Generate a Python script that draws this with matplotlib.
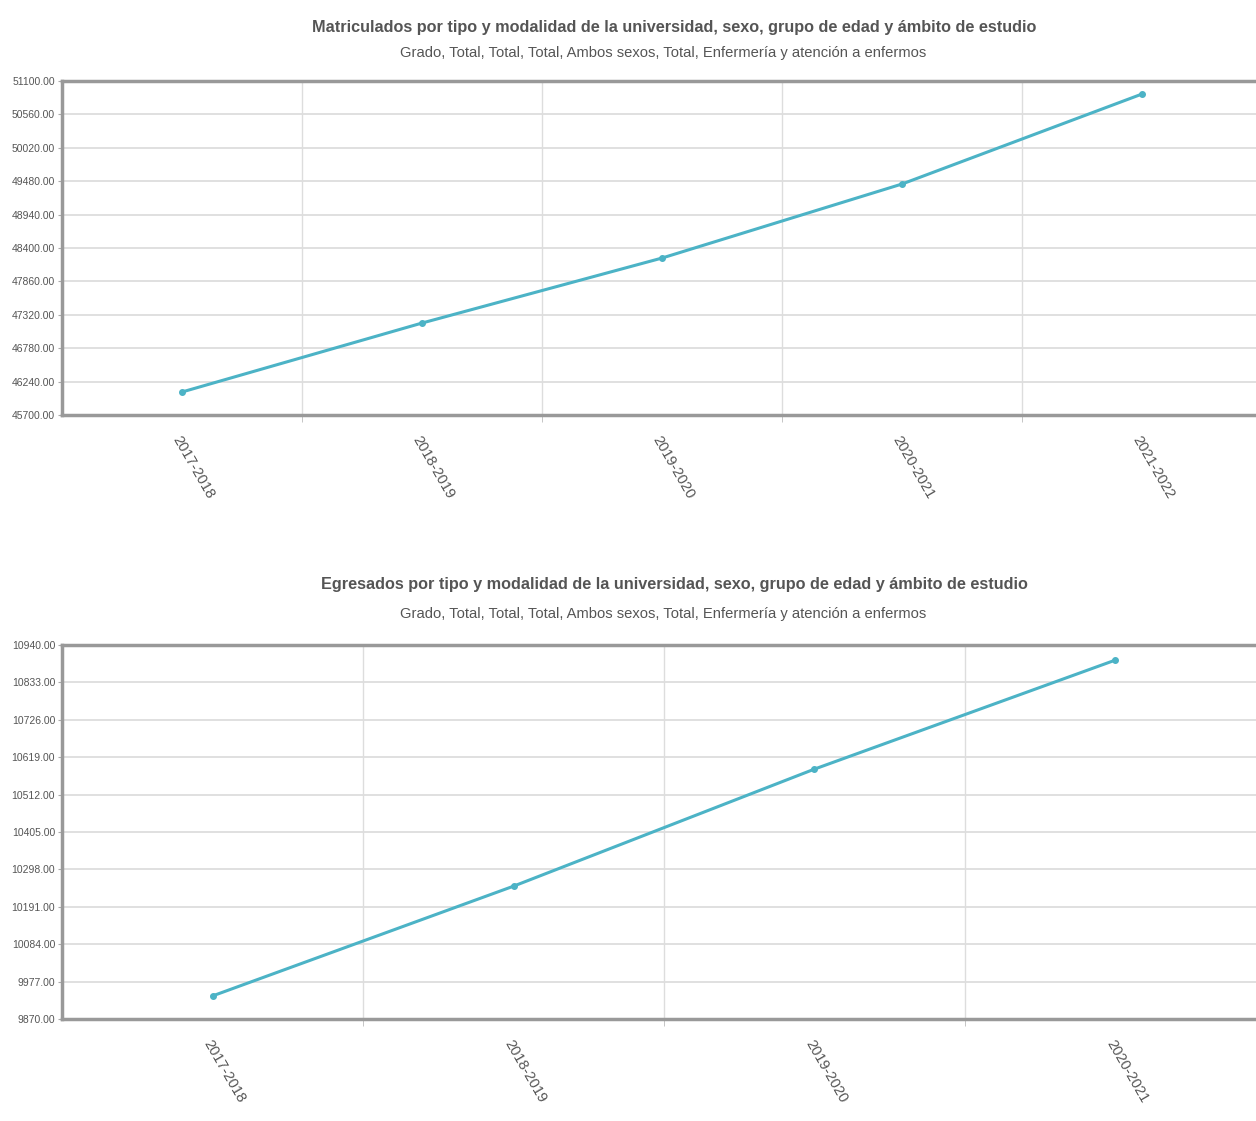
import matplotlib.pyplot as plt
import numpy as np
from matplotlib.ticker import FixedLocator, FormatStrFormatter

plt.rcParams['font.family'] = ['Liberation Sans Narrow', 'Liberation Sans', 'DejaVu Sans']

# --- data ---
matric_years = ['2017-2018', '2018-2019', '2019-2020', '2020-2021', '2021-2022']
matric_values = [46072, 47187, 48238, 49435, 50890]
matric_ticks = [45700, 46240, 46780, 47320, 47860, 48400, 48940, 49480, 50020, 50560, 51100]

egres_years = ['2017-2018', '2018-2019', '2019-2020', '2020-2021']
egres_values = [9936, 10250, 10585, 10897]
egres_ticks = [9870, 9977, 10084, 10191, 10298, 10405, 10512, 10619, 10726, 10833, 10940]

title_top = 'Matriculados por tipo y modalidad de la universidad, sexo, grupo de edad y ámbito de estudio'
title_bottom = 'Egresados por tipo y modalidad de la universidad, sexo, grupo de edad y ámbito de estudio'
subtitle = 'Grado, Total, Total, Total, Ambos sexos, Total, Enfermería y atención a enfermos'

line_color = '#4cb3c6'
text_color = '#555555'

fig = plt.figure(figsize=(12.56, 11.21), dpi=100)


def draw_panel(rect, years, values, ticks, title, xfrac, title_off, sub_off):
    ax = fig.add_axes(rect)
    x = np.arange(len(years))
    ax.plot(x, values, color=line_color, linewidth=2.2, marker='o', markersize=4, zorder=3)
    ax.set_xlim(-0.5, len(years) - 0.5 - xfrac)
    ax.set_ylim(ticks[0], ticks[-1])

    ax.yaxis.set_major_locator(FixedLocator(ticks))
    ax.yaxis.set_major_formatter(FormatStrFormatter('%.2f'))
    ax.set_xticks(x)
    ax.set_xticklabels(years, rotation=-60, ha='left', va='top', rotation_mode='anchor')
    ax.xaxis.set_minor_locator(FixedLocator(x[:-1] + 0.5))

    ax.grid(axis='y', which='major', color='#dddddd', linewidth=1.3)
    ax.grid(axis='x', which='minor', color='#dddddd', linewidth=1.0)
    ax.set_axisbelow(True)

    ax.tick_params(axis='y', length=3, color='#aaaaaa', labelsize=7.5, labelcolor=text_color, pad=2)
    ax.tick_params(axis='x', which='major', length=0, labelsize=10.5, labelcolor=text_color, pad=13)
    ax.tick_params(axis='x', which='minor', length=5, color='#bbbbbb')

    for side in ['left', 'bottom', 'top']:
        ax.spines[side].set_color('#999999')
        ax.spines[side].set_linewidth(2.5)
    ax.spines['right'].set_visible(False)

    top = rect[1] + rect[3]
    fig.text(0.537, top + title_off, title, ha='center', va='center',
             fontsize=11.7, fontweight='bold', color=text_color)
    fig.text(0.528, top + sub_off, subtitle, ha='center', va='center',
             fontsize=10.6, color=text_color)
    return ax


draw_panel([0.0494, 0.6298, 0.9506, 0.2979], matric_years, matric_values, matric_ticks,
           title_top, 0.025, 0.048, 0.025)
draw_panel([0.0494, 0.0910, 0.9506, 0.3336], egres_years, egres_values, egres_ticks,
           title_bottom, 0.033, 0.054, 0.028)

plt.savefig('out.png', dpi=100)
